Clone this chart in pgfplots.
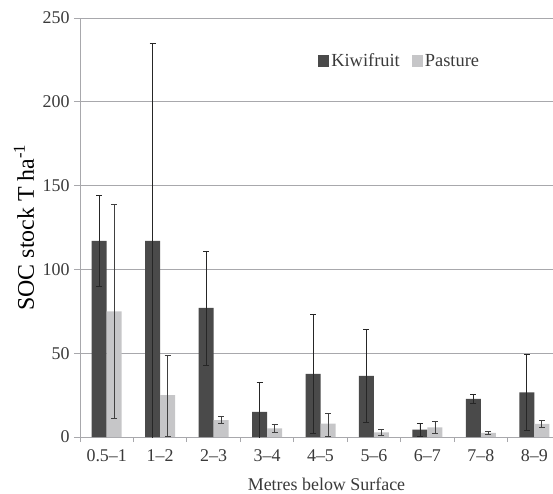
\documentclass[border=0pt]{standalone}
\usepackage{pgfplots}
\pgfplotsset{compat=1.18}
\usepackage{pgfplotstable}
\usepackage{fontspec}
\setmainfont{Liberation Serif}
\definecolor{kiwi}{HTML}{4A4A4A}
\definecolor{past}{HTML}{C6C6C8}
\definecolor{gridc}{HTML}{A8A8AC}
\definecolor{txt}{HTML}{3A3A3A}
\pgfplotstableread{
x y ep em
0 117 27 27
1 117 118 118
2 77 34 34
3 15 17.5 17.5
4 37.6 35.7 35.7
5 36.4 27.7 27.7
6 4.4 4 4
7 22.7 2.6 2.6
8 26.7 22.5 22.5
}\kiwi
\pgfplotstableread{
x y ep em
0 75 63.5 64
1 25 23.5 24.5
2 10 2 2
3 5.2 2.6 2.6
4 8 5.8 7.4
5 2.8 1.9 1.9
6 5.8 3.8 3.8
7 2.4 0.7 0.7
8 7.9 2.2 2.2
}\past
\begin{document}
\begin{tikzpicture}
\begin{axis}[
  scale only axis, width=473bp, height=419bp,
  at={(0,0)}, anchor=south west,
  xmin=-0.5, xmax=8.35, ymin=0, ymax=250,
  ytick={0,50,...,250},
  xtick={0,...,8},
  xticklabels={0.5--1,1--2,2--3,3--4,4--5,5--6,6--7,7--8,8--9},
  minor xtick={-0.5,0.5,...,8.5},
  major x tick style={draw=none},
  minor x tick style={draw=gridc, line width=0.8pt},
  minor tick length=5bp, major tick length=6bp,
  tick align=outside,
  ytick style={draw=gridc, line width=0.8pt},
  axis x line*=bottom, axis y line*=left,
  axis line style={draw=gridc, line width=0.9pt, -},
  ymajorgrids, grid style={draw=gridc, line width=0.9pt},
  ybar=0pt, bar width=15bp,
  tick label style={font=\fontsize{18}{18}\selectfont, text=txt},
  /pgf/number format/assume math mode=true,
  yticklabel style={xshift=-1bp},
  xticklabel style={yshift=-3bp},
  ylabel={SOC stock T ha\textsuperscript{-1}},
  ylabel style={font=\fontsize{24}{24}\selectfont, text=black, at={(axis description cs:-0.1184,0.5)}, anchor=center},
  xlabel={Metres below Surface},
  xlabel style={font=\fontsize{18}{18}\selectfont, text=txt, at={(axis description cs:0.5,0)}, yshift=-47bp, anchor=center, xshift=10bp},
  legend style={draw=none, fill=none, at={(0.497,0.925)}, anchor=north west, font=\fontsize{18.5}{18.5}\selectfont, text=txt, legend columns=2, /tikz/every even column/.append style={column sep=10bp}},
  legend image code/.code={\fill[#1] (0bp,-6bp) rectangle (11bp,6bp);},
  clip=true,
]
\addplot[fill=kiwi, draw=none, bar shift=-7.5bp,
  error bars/.cd, y dir=both, y explicit,
  error bar style={draw=black!85, line width=0.8pt},
  error mark options={rotate=90, mark size=3bp, draw=black!85, line width=0.8pt}]
  table[x=x, y=y, y error plus=ep, y error minus=em]{\kiwi};
\addlegendentry{Kiwifruit}
\addplot[fill=past, draw=none, bar shift=7.5bp,
  error bars/.cd, y dir=both, y explicit,
  error bar style={draw=black!75, line width=0.8pt},
  error mark options={rotate=90, mark size=3bp, draw=black!75, line width=0.8pt}]
  table[x=x, y=y, y error plus=ep, y error minus=em]{\past};
\addlegendentry{Pasture}
\end{axis}
\pgfresetboundingbox
\path (-80bp,-57bp) rectangle (473bp,437bp);
\end{tikzpicture}
\end{document}
